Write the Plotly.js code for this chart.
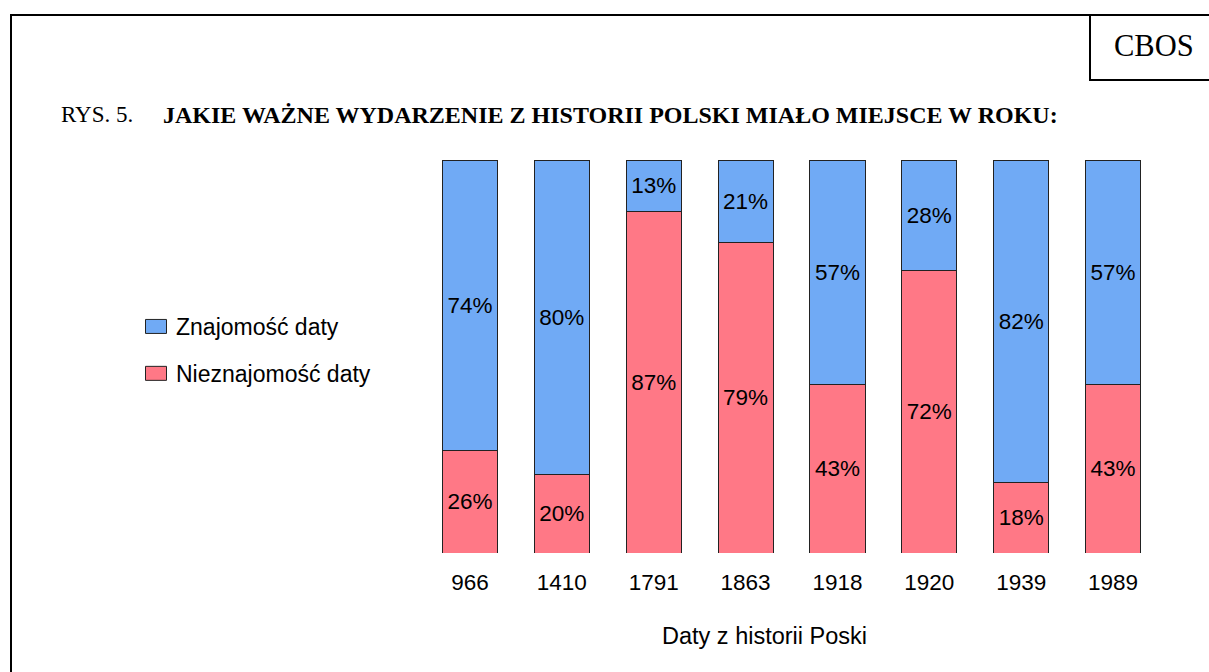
<!DOCTYPE html>
<html>
<head>
<meta charset="utf-8">
<script src="https://cdn.plot.ly/plotly-3.0.1.min.js"></script>
<style>html,body{margin:0;padding:0;background:#fff;}#chart{width:1209px;height:672px;}</style>
</head>
<body>
<div id="chart"></div>
<script>
const years = ['966', '1410', '1791', '1863', '1918', '1920', '1939', '1989'];
const knowDate = [74, 80, 13, 21, 57, 28, 82, 57];
const dontKnowDate = [26, 20, 87, 79, 43, 72, 18, 43];
const seriesNames = ['Znajomość daty', 'Nieznajomość daty'];
const xTitle = 'Daty z historii Poski';
const figLabel = 'RYS. 5.';
const titleText = 'JAKIE WAŻNE WYDARZENIE Z HISTORII POLSKI MIAŁO MIEJSCE W ROKU:';
const sourceText = 'CBOS';

const W = 1209, H = 672;
const L = 424, R = 50, T = 160, B = 119;
const pw = W - L - R, ph = H - T - B;
const px = x => (x - L) / pw;
const py = y => (H - B - y) / ph;

const sans = 'Liberation Sans, Arial, sans-serif';
const serif = 'Liberation Serif, Times New Roman, serif';

const red = {
  type: 'bar', x: years, y: dontKnowDate, name: seriesNames[1],
  legendgroup: 'b', legendrank: 2,
  marker: {color: '#FF7886', line: {color: '#222', width: 1}},
  text: dontKnowDate.map(v => v + '%'), textposition: 'inside', insidetextanchor: 'middle',
  textfont: {family: sans, size: 22.5, color: '#000'}, hoverinfo: 'skip'
};
const blue = {
  type: 'bar', x: years, y: knowDate, name: seriesNames[0],
  legendgroup: 'a', legendrank: 1,
  marker: {color: '#70AAF5', line: {color: '#222', width: 1}},
  text: knowDate.map(v => v + '%'), textposition: 'inside', insidetextanchor: 'middle',
  textfont: {family: sans, size: 22.5, color: '#000'}, hoverinfo: 'skip'
};

const layout = {
  width: W, height: H,
  margin: {l: L, r: R, t: T, b: B, pad: 0},
  paper_bgcolor: '#fff', plot_bgcolor: '#fff',
  barmode: 'stack', bargap: 0.4,
  showlegend: true,
  legend: {
    x: px(136), y: py(305), xanchor: 'left', yanchor: 'top',
    traceorder: 'grouped', tracegroupgap: 14,
    font: {family: sans, size: 23, color: '#000'},
    bgcolor: 'rgba(0,0,0,0)', itemwidth: 30
  },
  uniformtext: {mode: false},
  xaxis: {
    type: 'category', showline: false, showgrid: false, zeroline: false, ticks: '',
    tickfont: {family: sans, size: 22.5, color: '#000'}, ticklabelstandoff: 13
  },
  yaxis: {range: [0, 100], visible: false, fixedrange: true},
  font: {family: sans, color: '#000'},
  shapes: [
    {type: 'line', xref: 'paper', yref: 'paper', x0: px(11), x1: px(11), y0: py(14), y1: py(680), line: {color: '#000', width: 2}},
    {type: 'line', xref: 'paper', yref: 'paper', x0: px(10), x1: px(1215), y0: py(15), y1: py(15), line: {color: '#000', width: 2}},
    {type: 'line', xref: 'paper', yref: 'paper', x0: px(1090), x1: px(1090), y0: py(15), y1: py(80), line: {color: '#000', width: 2}},
    {type: 'line', xref: 'paper', yref: 'paper', x0: px(1089), x1: px(1215), y0: py(80), y1: py(80), line: {color: '#000', width: 2}}
  ],
  annotations: [
    {xref: 'paper', yref: 'paper', x: px(59), y: py(115), xanchor: 'left', yanchor: 'middle', showarrow: false,
     text: figLabel, font: {family: serif, size: 23, color: '#000'}},
    {xref: 'paper', yref: 'paper', x: px(161), y: py(115), xanchor: 'left', yanchor: 'middle', showarrow: false,
     text: '<b>' + titleText + '</b>', font: {family: serif, size: 24, color: '#000'}},
    {xref: 'paper', yref: 'paper', x: px(1153.5), y: py(46), xanchor: 'center', yanchor: 'middle', showarrow: false,
     text: sourceText, font: {family: serif, size: 30.5, color: '#000'}},
    {xref: 'paper', yref: 'paper', x: px(764), y: py(636), xanchor: 'center', yanchor: 'middle', showarrow: false,
     text: xTitle, font: {family: sans, size: 23.5, color: '#000'}}
  ]
};

Plotly.newPlot('chart', [red, blue], layout, {staticPlot: true, displayModeBar: false}).then(gd => {
  gd.querySelectorAll('.legend .legendpoints path').forEach(p => {
    p.setAttribute('d', 'M10.5,7H-10.5V-7H10.5Z');
  });
});
</script>
</body>
</html>
